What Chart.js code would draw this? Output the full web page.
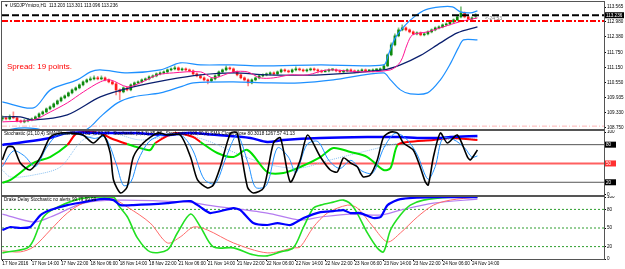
<!DOCTYPE html>
<html><head><meta charset="utf-8">
<script src="https://cdn.jsdelivr.net/npm/chart.js@4/dist/chart.umd.min.js"></script>
<style>
html,body{margin:0;padding:0;background:#fff;width:625px;height:269px;overflow:hidden}
canvas{position:absolute;left:0}
#c1{top:0}#c2{top:130px}#c3{top:196px}
</style></head><body>
<canvas id="c1" width="625" height="130" style="width:625px;height:130px"></canvas>
<canvas id="c2" width="625" height="66" style="width:625px;height:66px"></canvas>
<canvas id="c3" width="625" height="73" style="width:625px;height:73px"></canvas>
<script>
// ---------- DATA ----------
const xTickBars = [0,8,16,24,32,40,48,56,64,72,80,88,96,104,112,120,128];
const xTickLabels = ['17 Nov 2016','17 Nov 14:00','17 Nov 22:00','18 Nov 06:00','18 Nov 14:00','18 Nov 22:00','21 Nov 06:00','21 Nov 14:00','21 Nov 22:00','22 Nov 06:00','22 Nov 14:00','22 Nov 22:00','23 Nov 06:00','23 Nov 14:00','23 Nov 22:00','24 Nov 06:00','24 Nov 14:00'];
const priceTicks = [113.565,112.980,112.380,111.750,111.150,110.550,109.935,109.330,108.750];
const stochTicks = [100,0];
const drakeTicks = [100,80,50,20,0];

const opens = [109.09,109.13,109.09,109.17,109.13,109.01,108.97,109.01,109.05,109.09,
109.17,109.29,109.37,109.49,109.57,109.69,109.81,109.93,110.01,110.13,
110.25,110.33,110.45,110.57,110.65,110.69,110.73,110.69,110.73,110.65,
110.57,110.49,110.25,110.17,110.33,110.25,110.45,110.53,110.57,110.65,
110.69,110.77,110.81,110.89,110.93,110.97,111.05,111.09,111.13,111.05,
111.09,111.05,111.01,110.89,110.81,110.73,110.65,110.61,110.69,110.81,
110.97,111.05,111.13,111.09,110.97,110.85,110.73,110.65,110.53,110.65,
110.73,110.81,110.85,110.89,110.93,110.89,110.97,111.05,111.01,110.97,
111.05,111.09,111.05,111.01,111.05,111.09,111.05,111.01,110.97,111.01,
111.05,111.05,111.01,110.97,111.01,111.05,111.01,110.97,111.01,111.05,
111.01,111.01,111.05,111.05,111.09,111.21,111.65,112.05,112.41,112.65,
112.73,112.65,112.57,112.49,112.53,112.45,112.49,112.57,112.65,112.73,
112.77,112.85,112.89,112.97,113.05,113.17,113.33,113.17,113.09,113.20];
const highs = [109.21,109.19,109.25,109.37,109.17,109.05,109.07,109.11,109.13,109.21,
109.33,109.41,109.53,109.61,109.73,109.85,109.97,110.05,110.17,110.29,
110.37,110.49,110.61,110.69,110.77,110.81,110.79,110.81,110.77,110.69,
110.61,110.53,110.29,110.37,110.37,110.49,110.57,110.61,110.69,110.73,
110.81,110.85,110.93,110.97,111.01,111.09,111.13,111.21,111.17,111.13,
111.13,111.09,111.05,110.93,110.85,110.77,110.69,110.73,110.85,111.01,
111.09,111.21,111.17,111.13,111.01,110.89,110.77,110.69,110.69,110.77,
110.85,110.89,110.93,110.97,110.97,111.01,111.09,111.09,111.05,111.09,
111.17,111.13,111.09,111.09,111.13,111.13,111.09,111.05,111.05,111.09,
111.09,111.09,111.05,111.05,111.09,111.09,111.05,111.05,111.09,111.09,
111.05,111.09,111.09,111.13,111.25,111.69,112.13,112.49,112.73,112.85,
112.77,112.69,112.61,112.57,112.57,112.53,112.61,112.69,112.77,112.81,
112.89,112.93,113.01,113.09,113.21,113.57,113.37,113.21,113.17,113.30];
const lows = [109.01,109.05,109.05,109.09,108.97,108.93,108.93,108.97,109.01,109.05,
109.13,109.25,109.33,109.45,109.53,109.65,109.77,109.89,109.97,110.09,
110.21,110.29,110.41,110.53,110.61,110.65,110.65,110.65,110.61,110.53,
110.45,110.05,109.85,110.13,110.21,110.21,110.41,110.49,110.53,110.61,
110.65,110.73,110.77,110.85,110.89,110.93,111.01,111.05,111.01,111.01,
111.01,110.97,110.85,110.77,110.69,110.61,110.49,110.57,110.65,110.77,
110.93,111.01,111.05,110.93,110.81,110.69,110.61,110.41,110.49,110.61,
110.69,110.77,110.81,110.85,110.85,110.85,110.93,110.97,110.93,110.93,
111.01,111.01,110.97,110.97,111.01,111.01,110.93,110.93,110.97,110.97,
111.01,110.97,110.93,110.93,110.97,110.97,110.93,110.93,111.01,110.97,
110.97,110.97,111.01,111.01,111.05,111.17,111.61,112.01,112.37,112.61,
112.61,112.53,112.45,112.45,112.41,112.41,112.45,112.53,112.61,112.69,
112.73,112.81,112.85,112.93,113.01,113.13,113.13,113.05,113.05,113.10];
const closes = [109.13,109.09,109.17,109.13,109.01,108.97,109.01,109.05,109.09,109.17,
109.29,109.37,109.49,109.57,109.69,109.81,109.93,110.01,110.13,110.25,
110.33,110.45,110.57,110.65,110.69,110.73,110.69,110.73,110.65,110.57,
110.49,110.25,110.17,110.33,110.25,110.45,110.53,110.57,110.65,110.69,
110.77,110.81,110.89,110.93,110.97,111.05,111.09,111.13,111.05,111.09,
111.05,111.01,110.89,110.81,110.73,110.65,110.61,110.69,110.81,110.97,
111.05,111.13,111.09,110.97,110.85,110.73,110.65,110.53,110.65,110.73,
110.81,110.85,110.89,110.93,110.89,110.97,111.05,111.01,110.97,111.05,
111.09,111.05,111.01,111.05,111.09,111.05,111.01,110.97,111.01,111.05,
111.05,111.01,110.97,111.01,111.05,111.01,110.97,111.01,111.05,111.01,
111.01,111.05,111.05,111.09,111.21,111.65,112.05,112.41,112.65,112.73,
112.65,112.57,112.49,112.53,112.45,112.49,112.57,112.65,112.73,112.77,
112.85,112.89,112.97,113.05,113.17,113.33,113.17,113.09,113.13,113.24];

// Bollinger bands / MA  [bar, price]
const bbUpper = [[0,109.77],[8.5,109.53],[13.1,110.25],[20.4,110.65],[24,110.97],[26.7,111.05],[34.1,110.93],[43.1,111.05],[48.5,111.33],[54,111.25],[63,111.25],[70.3,111.21],[86.7,111.25],[103.9,111.25],[105.2,111.65],[107.1,112.33],[109.9,112.85],[112.6,113.21],[115.3,113.45],[119.4,113.57],[122.7,113.57],[124.9,113.37],[127.6,113.33],[129.5,113.41]];
const bbMiddle = [[0,109.17],[4.9,109.17],[8.5,109.05],[17.7,109.25],[26.7,109.97],[35.7,110.37],[45,110.65],[54,110.85],[63,110.93],[72.2,110.85],[86.7,110.85],[103.9,111.05],[108.5,111.25],[114,111.63],[119.4,112.13],[124,112.53],[129.5,112.77]];
const bbLower = [[0,108.60],[4.4,108.72],[9,108.70],[15,108.50],[20,108.45],[24,108.77],[26.7,109.17],[31.4,109.73],[35.7,109.97],[43.1,110.13],[48.5,110.37],[52.1,110.53],[63,110.57],[72.2,110.53],[81.2,110.53],[90.2,110.65],[103.9,110.93],[105.8,110.65],[108.5,110.25],[111.2,110.09],[115.9,110.13],[119.4,110.65],[122.1,111.29],[124.3,111.93],[125.7,112.25],[129.5,112.25]];
const emaFast = [[0,108.97],[8.5,109.05],[13.1,109.37],[17.7,109.73],[22.1,110.17],[26.7,110.57],[29.4,110.65],[34.1,110.37],[37.6,110.53],[42.3,110.85],[46.6,110.93],[54,110.97],[57.5,110.73],[63,110.97],[66.8,110.97],[70.3,110.73],[73.9,110.73],[78.5,110.85],[83.2,110.85],[88.6,111.05],[97.6,110.97],[105.8,111.05],[108.5,111.37],[110.4,112.09],[111.8,112.45],[115.9,112.57],[120.2,112.77],[124.6,112.97],[129.5,113.13]];
const bidLevel = 113.236, redLevel = 113.005, pinkLevel = 108.80;

// Stochastic panel  [bar, value]
const stochFastMain = [[0,55.6],[1.4,76.3],[3,76],[4.9,50.8],[7.6,39.6],[10.4,60],[13,92],[15.8,98.6],[18.5,98.6],[22,95.4],[24.8,82.7],[27.5,95.4],[29.4,66.7],[30.3,23.7],[32.2,2.9],[34,12.5],[35.7,60.3],[38.4,82.7],[42.3,98.6],[45,95.4],[48.5,95.4],[51.3,60.3],[53.2,23.7],[55.9,10.9],[57.5,15.7],[59.4,44.4],[62.2,98.6],[64,98.6],[66.8,12.5],[68.4,2.9],[71.2,10.9],[73.9,82.7],[75.8,90.7],[78.5,20.5],[81.2,55.6],[83.2,95.4],[86.7,60.3],[89.4,39.6],[91.3,36.4],[93,58.8],[94.9,50.8],[96.8,44.4],[97.6,34.8],[98.4,28.5],[100.3,31.6],[102.2,55.6],[103.9,92.2],[105.8,100],[107.7,98.6],[109.3,82.7],[112,71.5],[113.9,44.4],[115.3,20.5],[116.1,15.7],[117.5,60.3],[119.4,98.6],[121.3,82.7],[124,95.4],[126.8,60.3],[127.6,55.6],[129.5,71.5]];
const stochFastSignal = [[0,45],[3,70],[6,62],[9,45],[12,75],[15,95],[20,97],[25,90],[28,92],[31,50],[33,15],[35,20],[37,55],[40,85],[44,96],[49,94],[52,70],[55,25],[58,18],[61,60],[64,95],[67,50],[69,12],[72,15],[75,75],[78,60],[80,35],[83,80],[86,85],[89,55],[92,42],[95,55],[98,38],[101,35],[104,75],[107,98],[110,90],[113,65],[116,25],[118,45],[120,90],[123,88],[126,75],[128,60],[129.5,62]];
const stochSlowMain = [[0,79.5],[4.1,82.7],[13,90.7],[17.7,98.6],[26.7,98.6],[35.7,98.6],[45,95.4],[50.4,98.6],[58.6,95.4],[67.6,90.7],[72.2,84.3],[76.6,87.5],[86.7,90.7],[99.5,92.2],[108.5,92.2],[113.1,90.7],[119.4,90.7],[122.1,92.2],[129.5,93.8]];
const stochSlowSignal = [[0,19],[2.2,23.7],[8.5,50.8],[13,60.3],[17.7,79.5],[20.4,98.6],[26.7,98.6],[29.4,90.7],[34,81],[37.6,74.5],[40.3,71.5],[41.7,82.7],[47.2,98.6],[52,92.2],[54,84.3],[58.6,66.7],[63,60.3],[66.8,71.5],[72.2,36.4],[76.6,34.8],[81.2,44.4],[86.7,60.3],[90.2,74.7],[94.9,68.3],[99.5,60.3],[103.9,39.6],[105.8,42.8],[107.7,79.5],[110.4,84.3],[117.5,87.5],[122.1,90.7],[129.5,87.5]];
const stochLongMA = [[0,39.6],[2.2,28.5],[8.5,31.6],[15.8,44.4],[22,87.5],[29.4,98.6],[37.6,87.5],[48.5,95.4],[55.3,87.5],[64.9,63.5],[73,47.6],[81.2,42.8],[89.4,55.6],[100.3,71.5],[108.5,82.7],[119.4,87.5],[129.5,90.7]];
const stochLevels = [80,50,20];

// Drake Delay Stochastic panel  [bar, value]
const drakeBlue = [[0,46.8],[2.2,51.6],[4.9,50],[7.6,51.6],[10.4,70.9],[13.1,78.9],[17.7,86.9],[22.1,91.7],[26.7,96.6],[30.3,95],[32.2,86.9],[35.7,86.9],[45,90.1],[51.3,93.4],[54,83.7],[56.7,74.1],[63,82.1],[64.9,78.9],[68.4,58],[72.2,54.8],[75,58],[78.5,54.8],[82.1,66.1],[86.7,75.7],[90.2,77.3],[93,78.9],[94.9,74.1],[97.6,74.1],[101.1,66.1],[103.1,67.7],[105,86.9],[108.5,96.6],[117.5,99.8],[129.5,99.8]];
const drakeLime = [[0,9.9],[6.8,17.9],[8.5,30.8],[11.2,67.7],[15,83.7],[22.1,98.2],[30.3,99.8],[31.6,86.9],[34.1,67.7],[36.8,34],[40.3,11.5],[45,14.7],[47.7,42],[51.3,72.5],[54,51.6],[57.5,19.5],[63,17.9],[68.4,6.7],[72.2,5.1],[75.8,11.5],[79.3,17.9],[82.1,51.6],[84.8,82.1],[86.7,86.9],[90.2,91.7],[93,95],[95.7,83.7],[99.5,42],[102.2,17.9],[103.9,11.5],[105.8,46.8],[108.5,70.9],[111.2,86.9],[114.8,95],[122.1,99.8],[129.5,100]];
const drakeRed = [[0,13.1],[4.9,11.5],[8.5,19.5],[13.1,46.8],[17.7,74.1],[22.1,90.1],[29.4,98.2],[34.1,83.7],[40.3,58],[45,25.9],[48.5,35.6],[52.1,51.6],[55.9,46.8],[63,25.9],[72.2,9.9],[79.3,17.9],[81.2,19.5],[84.8,51.6],[88.6,74.1],[94.1,86.9],[96.8,82.1],[101.1,51.6],[105,27.5],[108.5,42],[113.1,67.7],[117.5,86.9],[122.1,95],[129.5,99.8]];
const drakePurple = [[0,72.5],[8.5,59.6],[13.1,67.7],[22.1,90.1],[31.4,95],[50.4,91.7],[55.9,86.9],[72.2,74.1],[81.2,62.9],[86.7,67.7],[94.9,72.5],[103.1,70.9],[108.5,78.9],[117.5,90.1],[129.5,96.6]];
const drakeLevels = [80,50,20];

// ---------- HELPERS ----------
const XMIN = -0.1, XMAX = 164;
const FONT = 'Liberation Sans';
const pts = a => a.map(([x,y]) => ({x, y}));
const hline = v => [{x:XMIN,y:v},{x:XMAX,y:v}];
const barIdx = closes.map((_, i) => i);

function xScale(show) {
  return {
    type:'linear', min:XMIN, max:XMAX, offset:false, display:show,
    afterBuildTicks: s => { s.ticks = xTickBars.map(v => ({value:v})); },
    afterFit: s => { s.height = show ? 10 : 0; s.paddingLeft = 0; s.paddingRight = 0; },
    ticks:{ autoSkip:false, maxRotation:0, align:'start', padding:0, color:'#000',
      font:{family:FONT,size:4.6}, callback:(v,i) => xTickLabels[i] },
    grid:{ drawOnChartArea:false, drawTicks:true, tickLength:2, color:'#000' },
    border:{ display:true, color:'#555' }
  };
}
function yScale(min, max, tickVals, fmt) {
  return {
    position:'right', min, max,
    afterBuildTicks: s => { s.ticks = tickVals.map(v => ({value:v})); },
    afterFit: s => { s.width = 21; s.paddingTop = 0; s.paddingBottom = 0; },
    ticks:{ autoSkip:false, padding:1, crossAlign:'near', color:'#000',
      font:{family:FONT,size:4.6}, callback: v => fmt(v) },
    grid:{ drawOnChartArea:false, drawTicks:true, tickLength:2, color:'#000' },
    border:{ display:true, color:'#555' }
  };
}
const framePlugin = {
  id:'frame',
  afterDraw(chart, args, opts) {
    const {ctx, chartArea:a} = chart;
    ctx.save();
    ctx.strokeStyle = '#555'; ctx.lineWidth = 1;
    ctx.strokeRect(Math.round(a.left)-0.5, Math.round(a.top)-0.5, Math.round(a.right-a.left)+1, Math.round(a.bottom-a.top)+1);
    const ys = chart.scales.y;
    (opts.boxes||[]).forEach(b => {
      const y = ys.getPixelForValue(b.v);
      ctx.fillStyle = b.bg; ctx.fillRect(a.right+1, y-3, b.w, 6);
      ctx.fillStyle = b.fg; ctx.font = '4.6px '+FONT; ctx.textBaseline = 'middle'; ctx.textAlign = 'left';
      ctx.fillText(b.t, a.right+2, y+0.3);
    });
    (opts.texts||[]).forEach(t => {
      ctx.fillStyle = t.c; ctx.font = t.f; ctx.textBaseline = 'middle'; ctx.textAlign = 'left';
      ctx.fillText(t.s, t.x, t.y);
    });
    ctx.restore();
  }
};
const common = {
  responsive:false, animation:false, events:[],
  plugins:{ legend:{display:false}, tooltip:{enabled:false} }
};
function lineDs(data, color, width, order, extra) {
  return Object.assign({ type:'line', data, borderColor:color, borderWidth:width, pointRadius:0, tension:0.3, fill:false, order }, extra||{});
}

// ---------- PRICE PANEL ----------
const bull = barIdx.map(i => closes[i] >= opens[i]);
new Chart(document.getElementById('c1'), {
  type:'bar',
  data:{ datasets:[
    lineDs(hline(bidLevel), '#000', 2, 0, {tension:0, borderDash:[7,3]}),
    lineDs(hline(redLevel), '#ff0000', 2, 0, {tension:0, borderDash:[6,2,2,2]}),
    lineDs(hline(pinkLevel), '#ffb4b4', 1, 0, {tension:0, borderDash:[5,2,1,2]}),
    lineDs(pts(emaFast), '#ff1493', 1, 1),
    lineDs(pts(bbUpper), '#1e90ff', 1.2, 2),
    lineDs(pts(bbLower), '#1e90ff', 1.2, 2),
    lineDs(pts(bbMiddle), '#0a1f6e', 1.2, 2),
    { type:'bar', grouped:false, order:3, barThickness:2, minBarLength:1,
      data: barIdx.map(i => ({x:i, y:[opens[i], closes[i]]})),
      backgroundColor: barIdx.map(i => bull[i] ? '#0c8a0c' : '#ff1a1a') },
    { type:'bar', grouped:false, order:4, barThickness:1,
      data: barIdx.map(i => ({x:i, y:[lows[i], highs[i]]})),
      backgroundColor: barIdx.map(i => bull[i] ? '#7cbf7c' : '#ff8c8c') }
  ]},
  options: Object.assign({}, common, {
    layout:{ padding:{left:2, top:2, right:0, bottom:1} },
    scales:{ x:xScale(false), y:yScale(108.685, 113.765, priceTicks, v => v.toFixed(3)) },
    plugins:{ legend:{display:false}, tooltip:{enabled:false},
      frame:{
        boxes:[{v:bidLevel, bg:'#000', fg:'#fff', t:'113.236', w:19}],
        texts:[
          {s:'\u25BC USDJPYmicro,H1  113.203 113.301 113.096 113.236', x:4, y:5.5, c:'#000', f:'4.6px '+FONT},
          {s:'Spread: 19 points.', x:7, y:67, c:'#ff0000', f:'8px '+FONT},
          {s:'<-24:53', x:485, y:19, c:'#777', f:'5px '+FONT}
        ]
      }
    }
  }),
  plugins:[framePlugin]
});

// ---------- STOCHASTIC PANEL ----------
new Chart(document.getElementById('c2'), {
  type:'line',
  data:{ datasets:[
    lineDs(pts(stochFastMain), '#000', 1.6, 0, {tension:0.25}),
    lineDs(pts(stochFastSignal), '#1e90ff', 1, 1, {tension:0.3}),
    lineDs(pts(stochSlowMain), '#0000ff', 2.5, 2),
    lineDs(pts(stochSlowSignal), '#ff0000', 2, 3, {segment:{ borderColor: c => (c.p0.parsed.y >= 78 && c.p1.parsed.y >= 78) ? '#ff0000' : '#00e000' }}),
    lineDs(pts(stochLongMA), '#87bff0', 1, 4, {borderDash:[1,1]}),
    lineDs(hline(stochLevels[0]), '#555', 1, 5, {tension:0}),
    lineDs(hline(stochLevels[1]), '#ff6060', 2, 5, {tension:0}),
    lineDs(hline(stochLevels[2]), '#555', 1, 5, {tension:0})
  ]},
  options: Object.assign({}, common, {
    layout:{ padding:{left:2, top:1, right:0, bottom:1} },
    scales:{ x:xScale(false), y:yScale(-0.3, 101.8, stochTicks, v => String(v)) },
    plugins:{ legend:{display:false}, tooltip:{enabled:false},
      frame:{
        boxes:[{v:80, bg:'#000', fg:'#fff', t:'80', w:11},{v:50, bg:'#ff3030', fg:'#fff', t:'50', w:11},{v:20, bg:'#000', fg:'#fff', t:'20', w:11}],
        texts:[
          {s:'Stochastic (21,10,4) SMA(Close/Close) 81.45 82.37   Stochastic (8,3,3) 85.07   Stochastic (100,30,8) SMA Close/Close 80.3018 1267.57 41.13', x:4, y:4, c:'#000', f:'4.6px '+FONT}
        ]
      }
    }
  }),
  plugins:[framePlugin]
});

// ---------- DRAKE DELAY PANEL ----------
new Chart(document.getElementById('c3'), {
  type:'line',
  data:{ datasets:[
    lineDs(pts(drakeBlue), '#0000ff', 2.2, 0, {tension:0.2}),
    lineDs(pts(drakeLime), '#22e022', 1.6, 1),
    lineDs(pts(drakeRed), '#ff6a6a', 1, 2),
    lineDs(pts(drakePurple), '#b57cf0', 1.2, 3),
    lineDs(hline(drakeLevels[0]), '#2e9e2e', 1, 4, {tension:0, borderDash:[2,2]}),
    lineDs(hline(drakeLevels[1]), '#2e9e2e', 1, 4, {tension:0, borderDash:[2,2]}),
    lineDs(hline(drakeLevels[2]), '#2e9e2e', 1, 4, {tension:0, borderDash:[2,2]})
  ]},
  options: Object.assign({}, common, {
    layout:{ padding:{left:2, top:1, right:0, bottom:0} },
    scales:{ x:xScale(true), y:yScale(0, 100, drakeTicks, v => String(v)) },
    plugins:{ legend:{display:false}, tooltip:{enabled:false},
      frame:{
        texts:[
          {s:'Drake Delay Stochastic no alerts 99.79 99.99', x:4, y:4, c:'#000', f:'4.6px '+FONT}
        ]
      }
    }
  }),
  plugins:[framePlugin]
});
</script>
</body></html>
